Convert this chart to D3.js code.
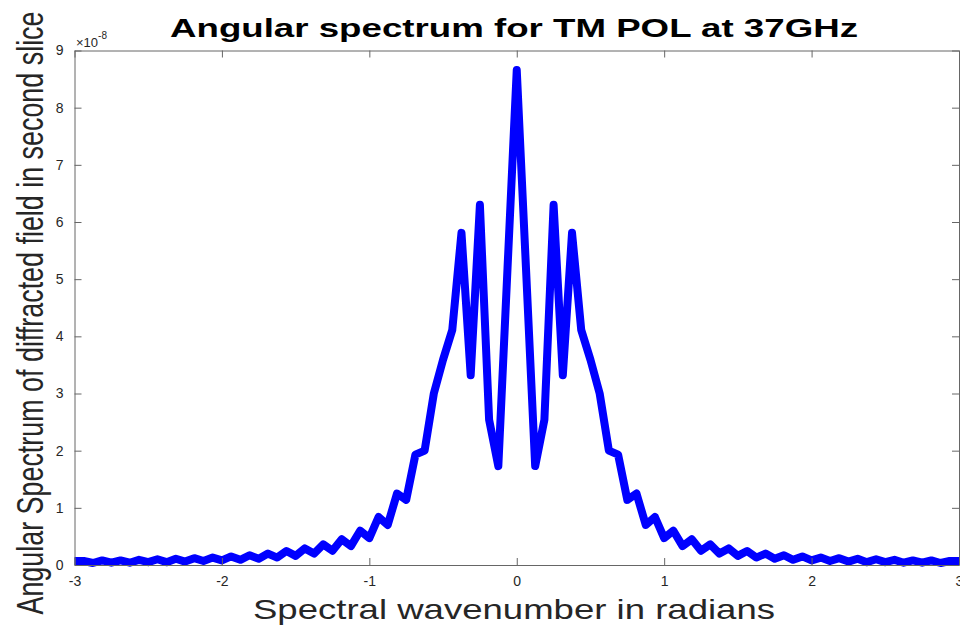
<!DOCTYPE html>
<html>
<head>
<meta charset="utf-8">
<script src="https://cdn.jsdelivr.net/npm/d3@7"></script>
<style>
  html, body { margin: 0; padding: 0; background: #fff; }
  svg { display: block; font-family: 'Liberation Sans', Arial, sans-serif; }
</style>
</head>
<body>
<div id="chart"></div>
<script>
const width = 960;
const height = 626;
const marginLeft = 74.5;
const marginRight = 1;
const marginTop = 50.5;
const marginBottom = 61;

const lineColor = '#0000ff';
const axisColor = '#666666';
const textColor = '#262626';

// wavenumber samples (radians)
const wavenumber = [
  -3, -2.9375, -2.875, -2.8125, -2.75, -2.6875, -2.625, -2.5625, -2.5, -2.4375,
  -2.375, -2.3125, -2.25, -2.1875, -2.125, -2.0625, -2, -1.9375, -1.875, -1.8125,
  -1.75, -1.6875, -1.625, -1.5625, -1.5, -1.4375, -1.375, -1.3125, -1.25, -1.1875,
  -1.125, -1.0625, -1, -0.9375, -0.875, -0.8125, -0.75, -0.6875, -0.625, -0.5625,
  -0.5, -0.4375, -0.375, -0.3125, -0.25, -0.1875, -0.125, -0.0625, 0,
  0.0625, 0.125, 0.1875, 0.25, 0.3125, 0.375, 0.4375, 0.5, 0.5625, 0.625,
  0.6875, 0.75, 0.8125, 0.875, 0.9375, 1, 1.0625, 1.125, 1.1875, 1.25,
  1.3125, 1.375, 1.4375, 1.5, 1.5625, 1.625, 1.6875, 1.75, 1.8125, 1.875,
  1.9375, 2, 2.0625, 2.125, 2.1875, 2.25, 2.3125, 2.375, 2.4375, 2.5,
  2.5625, 2.625, 2.6875, 2.75, 2.8125, 2.875, 2.9375, 3
];

// angular spectrum, in units of 1e-8
const spectrum = [
  0.07, 0.07, 0.035, 0.08, 0.04, 0.08, 0.04, 0.09, 0.05, 0.10,
  0.05, 0.11, 0.06, 0.12, 0.07, 0.13, 0.08, 0.15, 0.09, 0.17,
  0.11, 0.20, 0.13, 0.245, 0.16, 0.29, 0.20, 0.36, 0.25, 0.45,
  0.33, 0.60, 0.47, 0.84, 0.70, 1.25, 1.14, 1.93, 2.00, 3.00,
  3.59, 4.11, 5.81, 3.32, 6.30, 2.54, 1.73, 5.2, 8.66,
  5.2, 1.73, 2.54, 6.30, 3.32, 5.81, 4.11, 3.59, 3.00, 2.00,
  1.93, 1.14, 1.25, 0.70, 0.84, 0.47, 0.60, 0.33, 0.45, 0.25,
  0.36, 0.20, 0.29, 0.16, 0.245, 0.13, 0.20, 0.11, 0.17, 0.09,
  0.15, 0.08, 0.13, 0.07, 0.12, 0.06, 0.11, 0.05, 0.10, 0.05,
  0.09, 0.04, 0.08, 0.04, 0.08, 0.035, 0.07, 0.07
];

const xTicks = [-3, -2, -1, 0, 1, 2, 3];
const yTicks = [0, 1, 2, 3, 4, 5, 6, 7, 8, 9];

const titleText = 'Angular spectrum for TM POL at 37GHz';
const xLabelText = 'Spectral wavenumber in radians';
const yLabelText = 'Angular Spectrum of diffracted field in second slice';

const data = wavenumber.map((x, i) => ({ x: x, y: spectrum[i] }));

const svg = d3
  .select('#chart')
  .append('svg')
  .attr('width', width)
  .attr('height', height);

const xScale = d3
  .scaleLinear()
  .domain([-3, 3])
  .range([marginLeft, width - marginRight]);

const yScale = d3
  .scaleLinear()
  .domain([0, 9])
  .range([height - marginBottom, marginTop]);

const tickLen = 7;

// clip for the curve
svg
  .append('clipPath')
  .attr('id', 'plot-clip')
  .append('rect')
  .attr('x', marginLeft)
  .attr('y', marginTop - 10)
  .attr('width', width - marginLeft - marginRight)
  .attr('height', height - marginTop - marginBottom + 14);

// curve
const line = d3
  .line()
  .x((d) => xScale(d.x))
  .y((d) => yScale(d.y));

svg
  .append('path')
  .datum(data)
  .attr('clip-path', 'url(#plot-clip)')
  .attr('fill', 'none')
  .attr('stroke', lineColor)
  .attr('stroke-width', 8)
  .attr('stroke-linejoin', 'round')
  .attr('stroke-linecap', 'round')
  .attr('d', line);

// axes (box with inward ticks)
const styleAxis = (g) => {
  g.selectAll('path.domain').attr('stroke', axisColor);
  g.selectAll('.tick line').attr('stroke', axisColor);
  g.selectAll('.tick text')
    .attr('fill', textColor)
    .style('font-size', '14px')
    .style('font-family', "'Liberation Sans', Arial, sans-serif");
};

svg
  .append('g')
  .attr('transform', `translate(0, ${height - marginBottom})`)
  .call(
    d3.axisBottom(xScale).tickValues(xTicks).tickSizeInner(-tickLen)
      .tickSizeOuter(0).tickPadding(11).tickFormat(d3.format('d'))
  )
  .call(styleAxis)
  .selectAll('.tick text').text((d) => String(d).replace('−', '-'));

svg
  .append('g')
  .attr('transform', `translate(${marginLeft}, 0)`)
  .call(
    d3.axisLeft(yScale).tickValues(yTicks).tickSizeInner(-tickLen)
      .tickSizeOuter(0).tickPadding(11).tickFormat(d3.format('d'))
  )
  .call(styleAxis);

svg
  .append('g')
  .attr('transform', `translate(0, ${marginTop})`)
  .call(
    d3.axisTop(xScale).tickValues(xTicks).tickSizeInner(-tickLen)
      .tickSizeOuter(0).tickFormat('')
  )
  .call(styleAxis);

svg
  .append('g')
  .attr('transform', `translate(${width - marginRight}, 0)`)
  .call(
    d3.axisRight(yScale).tickValues(yTicks).tickSizeInner(-tickLen)
      .tickSizeOuter(0).tickFormat('')
  )
  .call(styleAxis);

// exponent marker
const expText = svg
  .append('text')
  .attr('x', 76)
  .attr('y', 47)
  .attr('fill', textColor)
  .style('font-size', '13px');
expText.append('tspan').text('×10');
expText
  .append('tspan')
  .attr('dy', -8)
  .style('font-size', '10px')
  .text('-8');

// title
svg
  .append('text')
  .attr('x', 514)
  .attr('y', 37)
  .attr('text-anchor', 'middle')
  .attr('textLength', 688)
  .attr('lengthAdjust', 'spacingAndGlyphs')
  .attr('fill', '#000')
  .style('font-size', '26px')
  .style('font-weight', 'bold')
  .text(titleText);

// x label
svg
  .append('text')
  .attr('x', 514)
  .attr('y', 619)
  .attr('text-anchor', 'middle')
  .attr('textLength', 522)
  .attr('lengthAdjust', 'spacingAndGlyphs')
  .attr('fill', textColor)
  .style('font-size', '28px')
  .text(xLabelText);

// y label
svg
  .append('text')
  .attr('transform', 'translate(43, 313) rotate(-90)')
  .attr('text-anchor', 'middle')
  .attr('textLength', 603)
  .attr('lengthAdjust', 'spacingAndGlyphs')
  .attr('fill', textColor)
  .style('font-size', '36px')
  .text(yLabelText);
</script>
</body>
</html>
